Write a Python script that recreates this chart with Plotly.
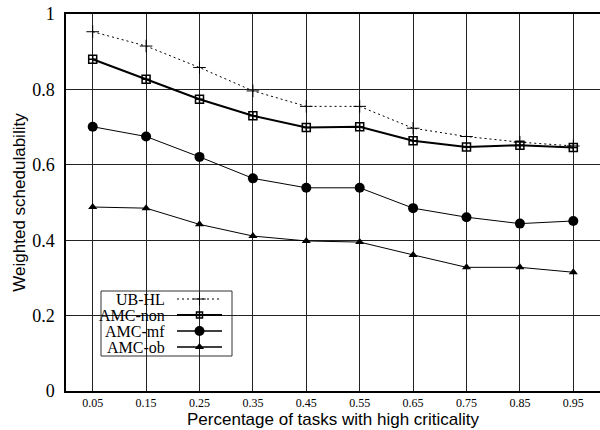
import plotly.graph_objects as go

x_vals = [0.05, 0.15, 0.25, 0.35, 0.45, 0.55, 0.65, 0.75, 0.85, 0.95]
x_ticklabels = ["0.05", "0.15", "0.25", "0.35", "0.45", "0.55", "0.65", "0.75", "0.85", "0.95"]
y_ticks = [0, 0.2, 0.4, 0.6, 0.8, 1]
y_ticklabels = ["0", "0.2", "0.4", "0.6", "0.8", "1"]

ub_hl = [0.953, 0.915, 0.858, 0.796, 0.755, 0.755, 0.697, 0.675, 0.660, 0.650]
amc_non = [0.880, 0.827, 0.774, 0.730, 0.699, 0.701, 0.664, 0.647, 0.652, 0.646]
amc_mf = [0.701, 0.675, 0.621, 0.564, 0.539, 0.539, 0.485, 0.461, 0.444, 0.451]
amc_ob = [0.488, 0.485, 0.442, 0.411, 0.398, 0.395, 0.361, 0.328, 0.328, 0.315]

names = ["UB-HL", "AMC-non", "AMC-mf", "AMC-ob"]
series = [ub_hl, amc_non, amc_mf, amc_ob]
styles = [
    dict(line=dict(color="black", width=1, dash="2px,3px"),
         marker=dict(symbol="cross-thin-open", size=9, color="black", line=dict(color="black", width=1))),
    dict(line=dict(color="black", width=2),
         marker=dict(symbol="square-cross-open", size=8, color="black", line=dict(color="black", width=1.5))),
    dict(line=dict(color="black", width=1),
         marker=dict(symbol="circle", size=10, color="black")),
    dict(line=dict(color="black", width=1),
         marker=dict(symbol="triangle-up", size=8, color="black")),
]
leg_styles = [
    dict(line=dict(color="black", width=1, dash="2px,3px"),
         marker=dict(symbol="cross-thin-open", size=9, color="black", line=dict(color="black", width=1))),
    dict(line=dict(color="black", width=2),
         marker=dict(symbol="square-cross-open", size=6, color="black", line=dict(color="black", width=1.5))),
    dict(line=dict(color="black", width=1.5),
         marker=dict(symbol="circle", size=10, color="black")),
    dict(line=dict(color="black", width=1.5),
         marker=dict(symbol="triangle-up", size=8, color="black")),
]

# plot area in pixels (for manual legend placement)
PL, PR, PT, PB = 66, 600, 14, 391
def px_to_paper_x(px):
    return (px - PL) / (PR - PL)
def px_to_paper_y(py):
    return (PB - py) / (PB - PT)

fig = go.Figure()
for n, s, st in zip(names, series, styles):
    fig.add_trace(go.Scatter(x=x_vals, y=s, mode="lines+markers", name=n,
                             showlegend=False, **st))

# manual legend (symbols to the right of right-aligned text)
leg_left, leg_right, leg_top, leg_bot = 101, 232, 291, 356
row_y0, row_dy = 299, 16
text_x = 167
samp_x0, samp_x1 = 177, 222
shapes = [dict(type="rect", xref="paper", yref="paper",
               x0=px_to_paper_x(leg_left), x1=px_to_paper_x(leg_right),
               y0=px_to_paper_y(leg_bot), y1=px_to_paper_y(leg_top),
               fillcolor="white", line=dict(color="#333", width=1), layer="between")]
annotations = []
for i, (n, st) in enumerate(zip(names, leg_styles)):
    yy = row_y0 + i * row_dy
    fig.add_trace(go.Scatter(x=[samp_x0, samp_x1], y=[yy, yy],
                             xaxis="x2", yaxis="y2", mode="lines",
                             line=st["line"], showlegend=False, hoverinfo="skip"))
    fig.add_trace(go.Scatter(x=[(samp_x0 + samp_x1) / 2], y=[yy],
                             xaxis="x2", yaxis="y2", mode="markers",
                             marker=st["marker"], showlegend=False, hoverinfo="skip"))
    annotations.append(dict(x=px_to_paper_x(text_x), y=px_to_paper_y(yy), xref="paper", yref="paper",
                            text=n, showarrow=False, xanchor="right", yanchor="middle",
                            font=dict(family="Liberation Serif", size=16, color="black")))

fig.update_layout(
    width=600, height=430,
    margin=dict(l=PL, r=600 - PR, t=PT, b=430 - PB),
    paper_bgcolor="white", plot_bgcolor="white",
    showlegend=False,
    shapes=shapes, annotations=annotations,
    xaxis=dict(range=[0, 1], tickvals=x_vals, ticktext=x_ticklabels,
               showgrid=True, gridcolor="#222", gridwidth=1,
               showline=True, linecolor="black", linewidth=1.5, mirror=True,
               ticks="", zeroline=False,
               tickfont=dict(family="Liberation Serif", size=12, color="black"),
               title=dict(text="Percentage of tasks with high criticality",
                          font=dict(family="Liberation Sans", size=17, color="black"),
                          standoff=2)),
    yaxis=dict(range=[0, 1], tickvals=y_ticks, ticktext=y_ticklabels,
               showgrid=True, gridcolor="#222", gridwidth=1,
               showline=True, linecolor="black", linewidth=1.5, mirror=False,
               ticks="outside", ticklen=6, tickcolor="white", zeroline=False,
               tickfont=dict(family="Liberation Serif", size=18, color="black"),
               title=dict(text="Weighted schedulability",
                          font=dict(family="Liberation Sans", size=17, color="black"),
                          standoff=2)),
    xaxis2=dict(overlaying="x", range=[PL, PR], visible=False, fixedrange=True),
    yaxis2=dict(overlaying="y", range=[PB, PT], visible=False, fixedrange=True),
)

fig.write_html("out.html")
